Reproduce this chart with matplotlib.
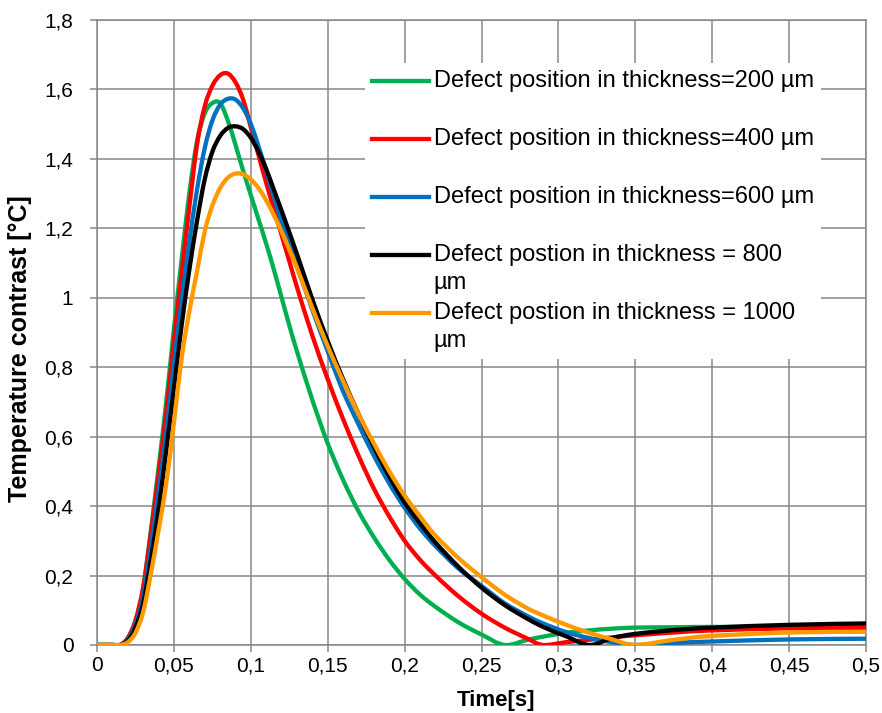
import numpy as np
import matplotlib
matplotlib.use('Agg')
import matplotlib.pyplot as plt
from matplotlib.lines import Line2D
from matplotlib.path import Path
from matplotlib.patches import PathPatch
from matplotlib.legend_handler import HandlerLine2D

plt.rcParams['font.family'] = ['Liberation Sans', 'DejaVu Sans']

# time axis [s]
time_s = [0, 0.01, 0.015, 0.02, 0.025, 0.03, 0.035, 0.04, 0.045, 0.05,
          0.055, 0.06, 0.065, 0.07, 0.075, 0.08, 0.085, 0.09, 0.095, 0.1,
          0.105, 0.11, 0.115, 0.12, 0.125, 0.13, 0.14, 0.15, 0.16, 0.17,
          0.18, 0.19, 0.2, 0.21, 0.22, 0.235, 0.25, 0.265, 0.28, 0.29,
          0.305, 0.32, 0.335, 0.35, 0.375, 0.4, 0.45, 0.5]

# temperature contrast [degC] for each defect depth
dt_200 = [0, 0, 0, 0.02, 0.07, 0.165, 0.33, 0.51, 0.70, 0.91,
          1.11, 1.30, 1.45, 1.53, 1.56, 1.56, 1.51, 1.44, 1.365, 1.295,
          1.225, 1.155, 1.08, 1.0, 0.92, 0.845, 0.705, 0.58, 0.475, 0.385,
          0.31, 0.245, 0.19, 0.145, 0.11, 0.065, 0.03, 0.0, 0.015, 0.024,
          0.035, 0.042, 0.047, 0.05, 0.051, 0.052, 0.051, 0.05]
dt_400 = [0, 0, 0, 0.02, 0.07, 0.165, 0.32, 0.49, 0.67, 0.875,
          1.07, 1.26, 1.44, 1.55, 1.61, 1.64, 1.645, 1.62, 1.57, 1.49,
          1.41, 1.33, 1.255, 1.18, 1.105, 1.03, 0.89, 0.765, 0.65, 0.545,
          0.45, 0.37, 0.30, 0.245, 0.20, 0.14, 0.09, 0.05, 0.018, 0.0,
          0.008, 0.015, 0.022, 0.028, 0.036, 0.042, 0.048, 0.05]
dt_600 = [0, 0, 0, 0.015, 0.06, 0.14, 0.28, 0.44, 0.61, 0.81,
          0.99, 1.16, 1.31, 1.43, 1.51, 1.555, 1.572, 1.57, 1.545, 1.50,
          1.435, 1.365, 1.29, 1.22, 1.155, 1.09, 0.965, 0.845, 0.73, 0.635,
          0.545, 0.465, 0.395, 0.335, 0.285, 0.22, 0.17, 0.12, 0.083, 0.062,
          0.037, 0.02, 0.008, 0.0, 0.006, 0.01, 0.016, 0.018]
dt_800 = [0, 0, 0, 0.012, 0.05, 0.12, 0.245, 0.39, 0.56, 0.74,
          0.92, 1.08, 1.22, 1.34, 1.42, 1.465, 1.488, 1.493, 1.485, 1.46,
          1.42, 1.37, 1.31, 1.25, 1.188, 1.125, 0.995, 0.875, 0.765, 0.665,
          0.57, 0.485, 0.41, 0.35, 0.295, 0.225, 0.165, 0.115, 0.075, 0.052,
          0.025, 0.0, 0.02, 0.032, 0.043, 0.05, 0.058, 0.062]
dt_1000 = [0, 0, 0, 0.008, 0.035, 0.095, 0.205, 0.33, 0.465, 0.64,
           0.825, 0.96, 1.075, 1.19, 1.265, 1.315, 1.345, 1.357, 1.355, 1.34,
           1.315, 1.28, 1.237, 1.19, 1.138, 1.085, 0.97, 0.86, 0.76, 0.665,
           0.58, 0.50, 0.43, 0.37, 0.315, 0.25, 0.195, 0.145, 0.105, 0.085,
           0.058, 0.035, 0.016, 0.0, 0.015, 0.026, 0.036, 0.038]

labels = ['Defect position in thickness=200 \u00b5m\n',
          'Defect position in thickness=400 \u00b5m\n',
          'Defect position in thickness=600 \u00b5m\n',
          'Defect postion in thickness = 800\n\u00b5m',
          'Defect postion in thickness = 1000\n\u00b5m']
colors = ['#00B050', '#FF0000', '#0070C0', '#000000', '#FF9900']

xticks = [0, 0.05, 0.1, 0.15, 0.2, 0.25, 0.3, 0.35, 0.4, 0.45, 0.5]
xticklabels = ['0', '0,05', '0,1', '0,15', '0,2', '0,25', '0,3', '0,35', '0,4', '0,45', '0,5']
yticks = [0, 0.2, 0.4, 0.6, 0.8, 1.0, 1.2, 1.4, 1.6, 1.8]
yticklabels = ['0', '0,2', '0,4', '0,6', '0,8', '1', '1,2', '1,4', '1,6', '1,8']


def smooth_path(x, y):
    """Excel-like smoothed line: Catmull-Rom segments as cubic Bezier."""
    p = np.column_stack([x, y]).astype(float)
    verts = [p[0]]
    codes = [Path.MOVETO]
    n = len(p)
    for i in range(n - 1):
        p0 = p[i - 1] if i > 0 else p[i]
        p3 = p[i + 2] if i + 2 < n else p[i + 1]
        c1 = p[i] + (p[i + 1] - p0) / 6.0
        c2 = p[i + 1] - (p3 - p[i]) / 6.0
        verts += [c1, c2, p[i + 1]]
        codes += [Path.CURVE4] * 3
    return Path(verts, codes)


class RaisedLine(HandlerLine2D):
    # put the legend line next to the first text line
    def create_artists(self, legend, orig_handle, xdescent, ydescent,
                       width, height, fontsize, trans):
        arts = super().create_artists(legend, orig_handle, xdescent, ydescent,
                                      width, height, fontsize, trans)
        for a in arts:
            a.set_ydata(np.asarray(a.get_ydata()) + 10.3)
        return arts


fig = plt.figure(figsize=(8.82, 7.13), dpi=100)
ax = fig.add_axes([0.110, 0.0954, 0.872, 0.877])

grid_c = '#878787'
handles = []
for y, c, lab in zip([dt_200, dt_400, dt_600, dt_800, dt_1000], colors, labels):
    ax.add_patch(PathPatch(smooth_path(time_s, y), fill=False, ec=c, lw=3.1,
                           capstyle='round', joinstyle='round', zorder=3))
    handles.append(Line2D([], [], color=c, lw=3.1, label=lab))

ax.set_xlim(0, 0.5)
ax.set_ylim(0, 1.8)
ax.set_xticks(xticks)
ax.set_xticklabels(xticklabels)
ax.set_yticks(yticks)
ax.set_yticklabels(yticklabels)
ax.grid(True, color=grid_c, lw=1.1)
ax.set_axisbelow(True)
for s in ax.spines.values():
    s.set_color(grid_c)
    s.set_linewidth(1.1)
ax.tick_params(axis='both', colors=grid_c, labelcolor='black', length=5,
               width=1.1, labelsize=15)
ax.tick_params(axis='x', pad=3)
ax.tick_params(axis='y', pad=12)

lgd = ax.legend(handles=handles, loc='upper left', bbox_to_anchor=(0.3485, 0.931),
                borderaxespad=0, fontsize=17, frameon=True, fancybox=False,
                framealpha=1, facecolor='white', edgecolor='none',
                handlelength=2.4, handletextpad=0.2, labelspacing=0.35,
                borderpad=0.3, handler_map={Line2D: RaisedLine()})
for t in lgd.get_texts():
    t.set_linespacing(1.34)

fig.text(0.023, 0.5105, 'Temperature contrast [\u00b0C]', rotation=90, ha='center',
         va='center', fontsize=18, fontweight='bold')
fig.text(0.5625, 0.018, 'Time[s]', ha='center', va='center', fontsize=16,
         fontweight='bold')

fig.savefig('out.png', dpi=100)
